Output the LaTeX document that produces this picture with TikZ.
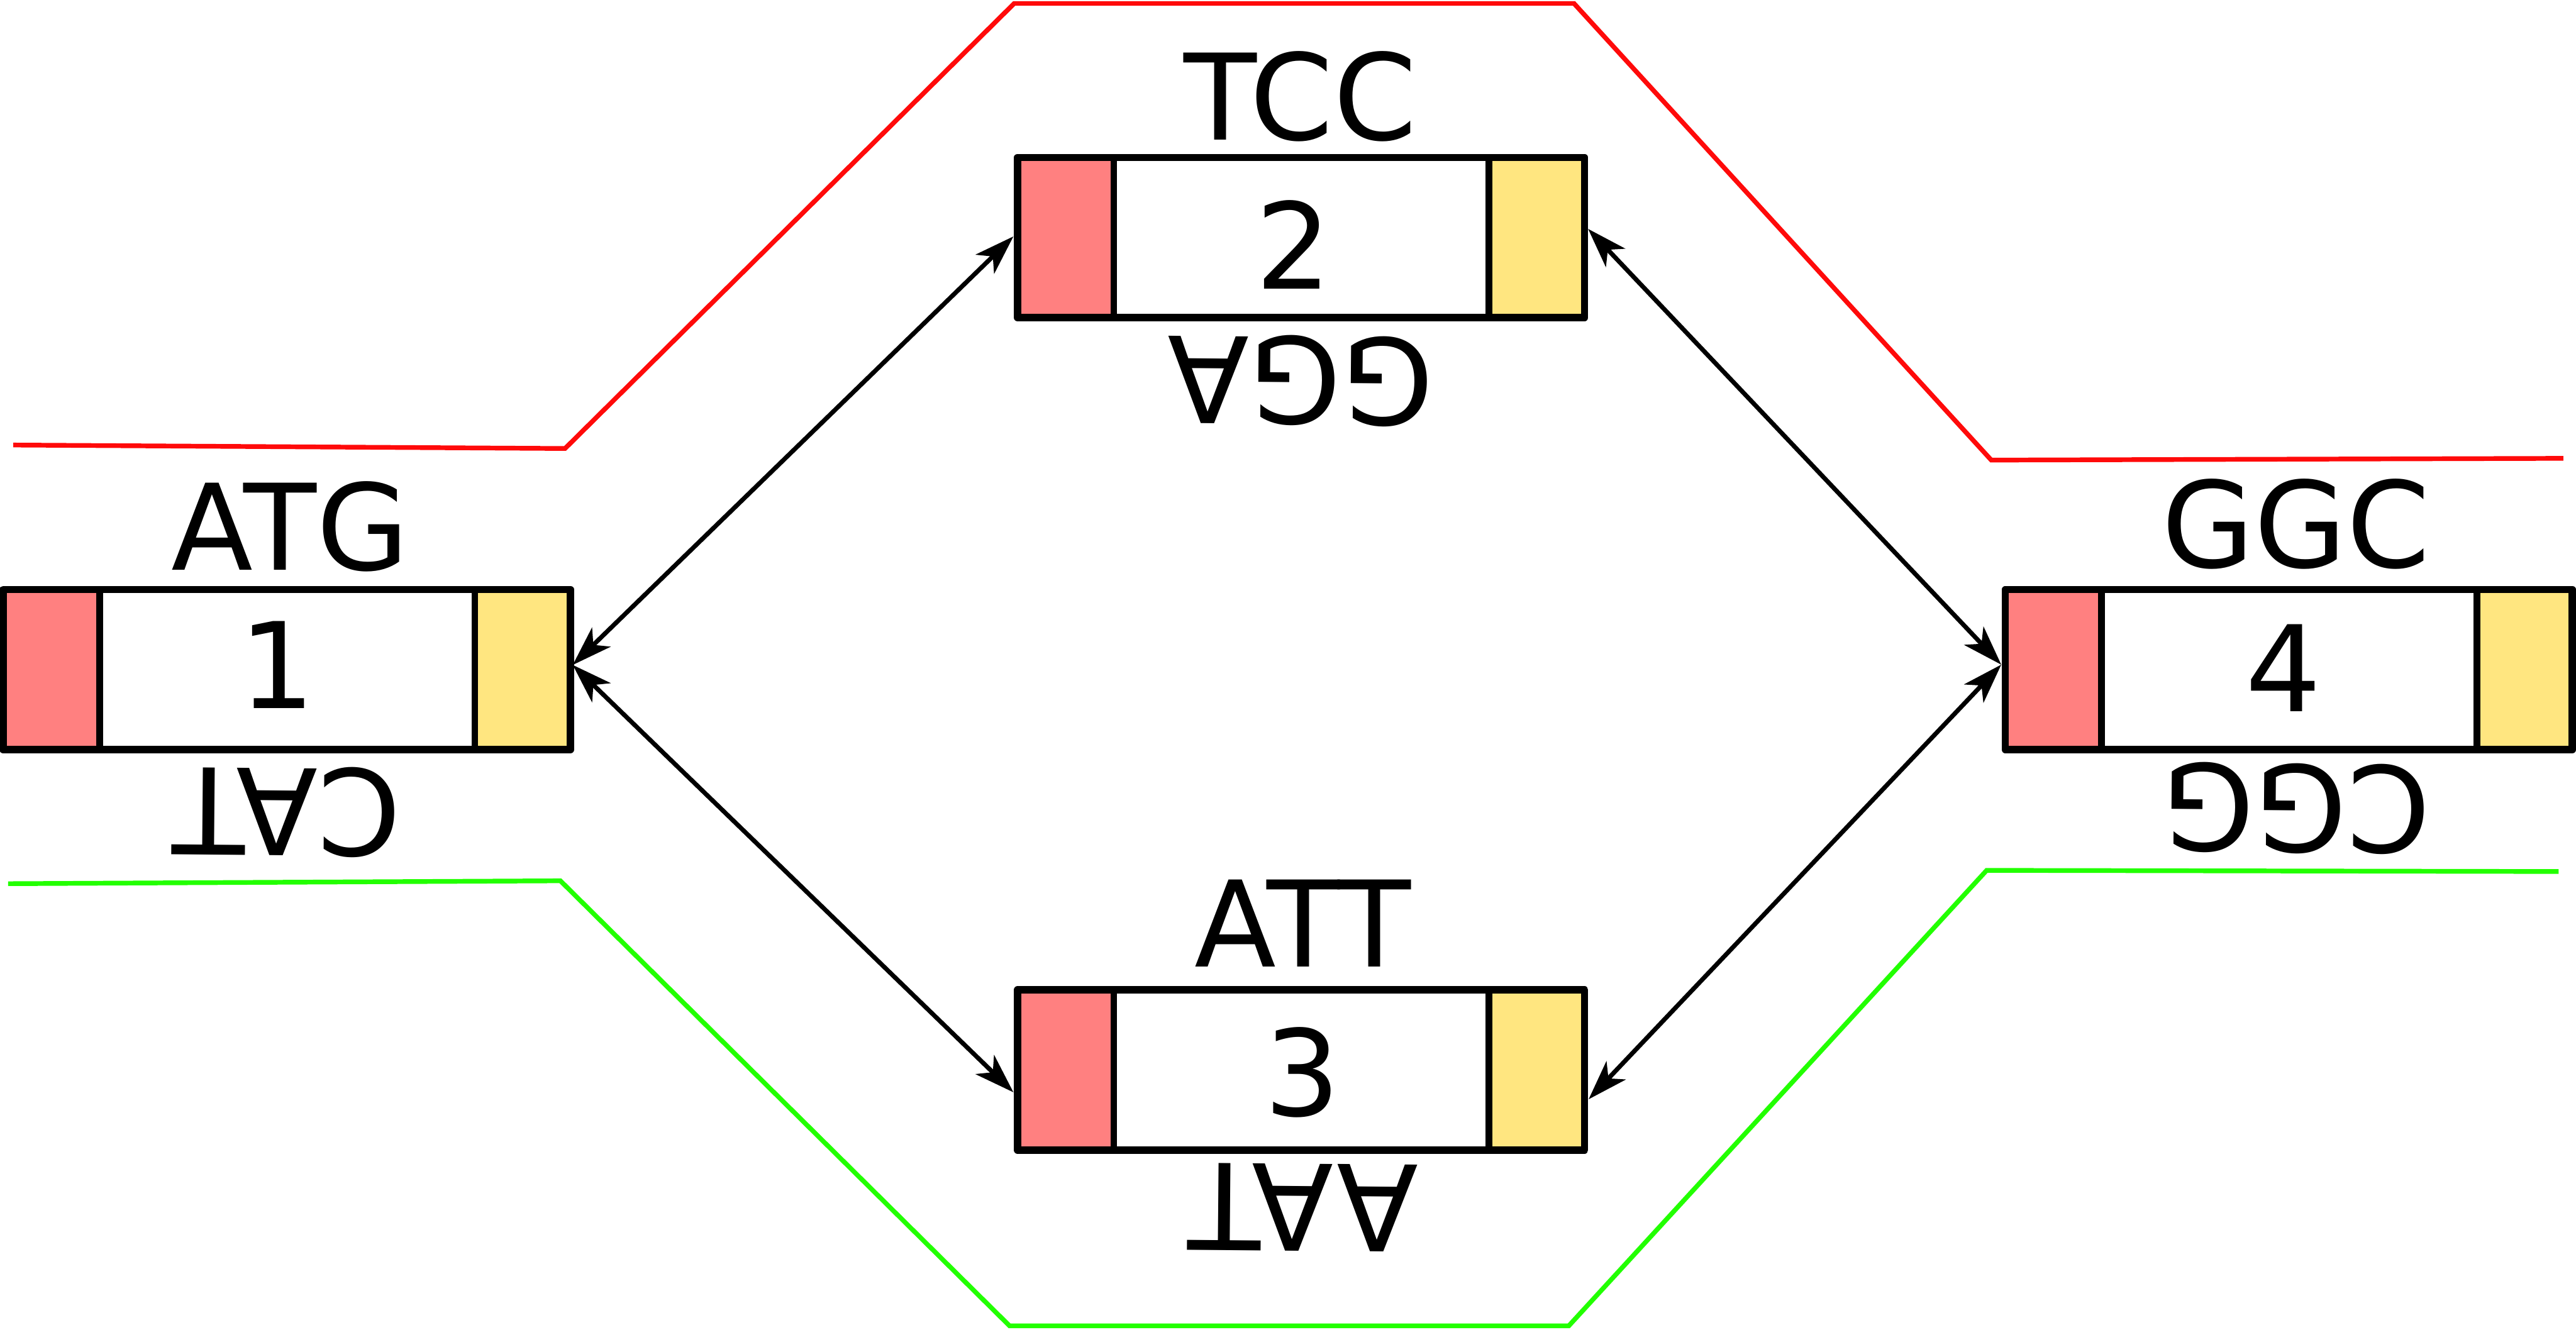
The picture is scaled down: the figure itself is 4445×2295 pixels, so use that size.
\documentclass[tikz,border=0pt]{standalone}
\usepackage{fontspec}
\setmainfont{DejaVu Sans}
\usetikzlibrary{arrows.meta,calc}
\definecolor{lred}{RGB}{255,128,128}
\definecolor{lyel}{RGB}{255,230,128}
\definecolor{rline}{RGB}{255,10,10}
\definecolor{gline}{RGB}{34,255,0}
\begin{document}
\begin{tikzpicture}[x=0.01cm,y=-0.01cm,
 box/.style={minimum width=9.78cm, minimum height=2.76cm, inner sep=0pt, outer sep=0pt, fill=white},
 edge/.style={line width=3.6pt, line join=round, line cap=round},
 divider/.style={line width=3.3pt, line cap=round},
 txt/.style={font=\fontsize{58.6}{70}\selectfont, inner sep=0pt, anchor=base},
 link/.style={line width=2.2pt, {Stealth[length=19.5pt,width=13pt,inset=5.4pt]}-{Stealth[length=19.5pt,width=13pt,inset=5.4pt]}},
 strand/.style={line width=2.3pt, line join=miter}]
\useasboundingbox (0,0) rectangle (4445,2295);
% strands
\draw[strand, rline] (23,768) -- (975,774) -- (1750,6) -- (2716,6) -- (3436,794) -- (4423,791);
\draw[strand, gline] (14,1525) -- (967,1520) -- (1742,2288) -- (2707,2288) -- (3428,1502) -- (4415,1504);
% boxes
\foreach \n/\cx/\cy in {b1/495/1155.5, b2/2245/410, b3/2245/1846.5, b4/3949.5/1155.5} {
 \node[box] (\n) at (\cx,\cy) {};
 \fill[lred] (\n.north west) rectangle ($(\n.south west)+(166,0)$);
 \fill[lyel] ($(\n.north east)+(-165,0)$) rectangle (\n.south east);
 \draw[divider] ($(\n.north west)+(166,0)$) -- ($(\n.south west)+(166,0)$);
 \draw[divider] ($(\n.north east)+(-165,0)$) -- ($(\n.south east)+(-165,0)$);
 \draw[edge] (\n.north west) rectangle (\n.south east);
}
% texts
\node[txt] (t1) at (501,984) {ATG};
\node[txt, rotate=179.5] (r1) at (495,1326) {CAT};
\node[txt] (n1) at (478,1222) {1};
\node[txt] (t2) at (2244,241) {TCC};
\node[txt, rotate=179.5] (r2) at (2245,582) {GGA};
\node[txt] (n2) at (2232,499) {2};
\node[txt] (t3) at (2248,1668) {ATT};
\node[txt, rotate=179.5] (r3) at (2249,2009) {AAT};
\node[txt] (n3) at (2247,1926) {3};
\node[txt] (t4) at (3962,979) {GGC};
\node[txt, rotate=179.5] (r4) at (3963,1320) {CGG};
\node[txt] (n4) at (3940,1228) {4};
% links
\draw[link] ($(b1.east)+(4,-8)$) -- ($(b2.west)+(-7,-2)$);
\draw[link] ($(b1.east)+(4,-8)$) -- ($(b3.west)+(-7,38.5)$);
\draw[link] ($(b2.east)+(6,-15)$) -- ($(b4.west)+(-7,-8.5)$);
\draw[link] ($(b3.east)+(7,50.5)$) -- ($(b4.west)+(-7,-8.5)$);
\end{tikzpicture}
\end{document}
